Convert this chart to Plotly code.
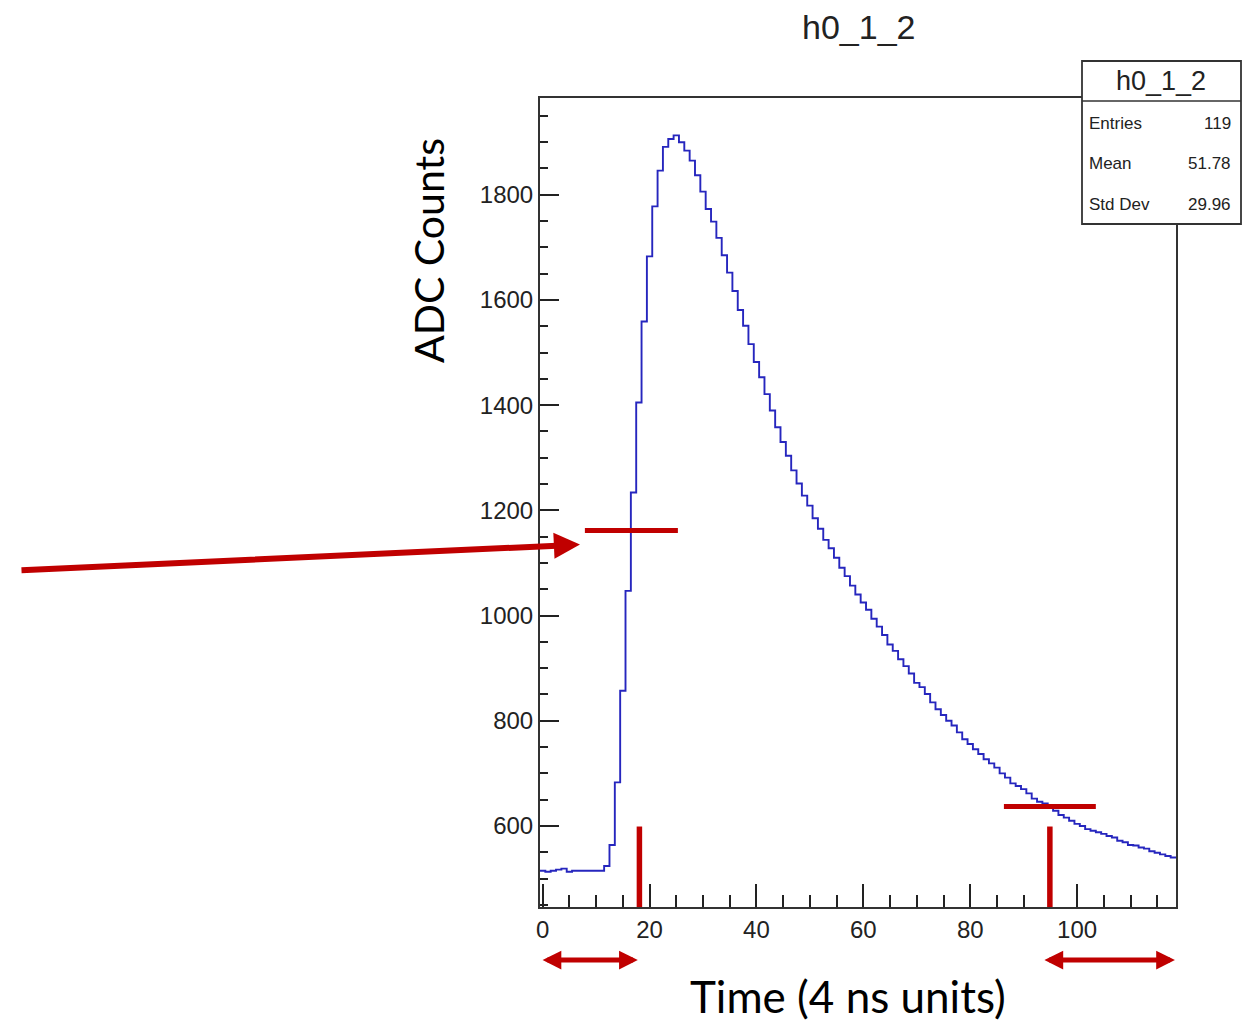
import numpy as np
import plotly.graph_objects as go

# ---------------- data ----------------
bin_centers = list(range(119))          # histogram bins, width 1, centred on integers
adc_counts = [
    515, 513, 515, 517, 519, 513, 515, 515, 515, 515, 515, 515,      # 0-11
    524, 564, 683, 857, 1047, 1234, 1405, 1559, 1683, 1778,          # 12-21
    1846, 1891, 1906, 1913, 1900, 1884, 1865, 1837, 1806, 1773,      # 22-31
    1749, 1718, 1685, 1652, 1617, 1581, 1551, 1516, 1482, 1453,      # 32-41
    1421, 1390, 1358, 1330, 1304, 1276, 1251, 1228, 1209, 1185,      # 42-51
    1165, 1144, 1128, 1110, 1091, 1075, 1057, 1040, 1025, 1011,      # 52-61
    994, 979, 963, 945, 933, 917, 904, 890, 872, 864,                # 62-71
    851, 835, 822, 811, 800, 791, 778, 765, 756, 746,                # 72-81
    737, 727, 719, 711, 700, 692, 681, 676, 670, 662,                # 82-91
    652, 646, 643, 637, 629, 621, 616, 610, 604, 600,                # 92-101
    594, 591, 588, 585, 581, 578, 572, 569, 564, 563,                # 102-111
    559, 557, 552, 549, 546, 543, 540,                               # 112-118
]
hist_name = "h0_1_2"
stats_labels = ["Entries", "Mean", "Std Dev"]
stats_values = ["119", "51.78", "29.96"]
x_tick_values = [0, 20, 40, 60, 80, 100]
y_tick_values = [600, 800, 1000, 1200, 1400, 1600, 1800]
x_title = "Time (4 ns units)"
y_title = "ADC Counts"

# red overlay marks (data coordinates)
level_start = dict(x0=7.9, x1=25.3, y=1162)
level_end = dict(x0=86.3, x1=103.5, y=637)
marker_times = [18.1, 94.9]
marker_top = 599
window_left = (-0.3, 17.8)
window_right = (93.6, 118.3)
arrow_tip = (6.98, 1135)
arrow_tail = (-97.8, 1086)

RED = "#c00000"
BLUE = "rgb(38,38,190)"
INK = "#222222"

# ---------------- figure ----------------
edges = np.array(bin_centers + [bin_centers[-1] + 1], dtype=float) - 0.5
y_step = adc_counts + [adc_counts[-1]]

fig = go.Figure()
fig.add_trace(go.Scatter(
    x=edges, y=y_step, mode="lines", line=dict(shape="hv", color=BLUE, width=1.9),
    hoverinfo="skip", showlegend=False))

xmin, xmax = edges[0], edges[-1]
ymin, ymax = 446, 1984

tickfont = dict(family="Liberation Sans, Arial, sans-serif", size=24, color=INK)
fig.update_xaxes(
    range=[xmin, xmax], tickvals=x_tick_values, ticks="inside", ticklen=23, tickwidth=1.5,
    tickcolor=INK, showline=True, linecolor="#333", linewidth=2, mirror=True,
    showgrid=False, zeroline=False, tickfont=tickfont,
    minor=dict(tick0=0, dtick=5, ticks="inside", ticklen=12, tickwidth=1.5,
               tickcolor=INK, showgrid=False))
fig.update_yaxes(
    range=[ymin, ymax], tickvals=y_tick_values, ticks="inside", ticklen=19, tickwidth=1.5,
    tickcolor=INK, showline=True, linecolor="#333", linewidth=2, mirror=True,
    showgrid=False, zeroline=False, tickfont=tickfont,
    minor=dict(tick0=0, dtick=50, ticks="inside", ticklen=8, tickwidth=1.5,
               tickcolor=INK, showgrid=False))

W, H = 1250, 1023
L, R, T, B = 540, 74, 98, 116
fig.update_layout(width=W, height=H, margin=dict(l=L, r=R, t=T, b=B, pad=0),
                  plot_bgcolor="white", paper_bgcolor="white", showlegend=False)

pw, ph = W - L - R, H - T - B
def px(xp):  # pixel x -> paper
    return (xp - L) / pw
def py(yp):  # pixel y -> paper
    return (H - B - yp) / ph

shapes = []
# red level lines
for lv in (level_start, level_end):
    shapes.append(dict(type="line", xref="x", yref="y", x0=lv["x0"], x1=lv["x1"],
                       y0=lv["y"], y1=lv["y"], line=dict(color=RED, width=5)))
for t in marker_times:
    shapes.append(dict(type="line", xref="x", yref="y", x0=t, x1=t,
                       y0=ymin, y1=marker_top, line=dict(color=RED, width=5.5)))
# stats box
shapes.append(dict(type="rect", xref="paper", yref="paper", x0=px(1082), x1=px(1241),
                   y0=py(224), y1=py(61), fillcolor="white",
                   line=dict(color="#333", width=1.8), layer="above"))
shapes.append(dict(type="line", xref="paper", yref="paper", x0=px(1082), x1=px(1241),
                   y0=py(101), y1=py(101), line=dict(color="#333", width=1.5), layer="above"))

annotations = []
# main title
annotations.append(dict(text=hist_name, xref="paper", yref="paper", x=px(858), y=py(27),
                        showarrow=False, xanchor="center", yanchor="middle",
                        font=dict(family="Liberation Sans, Arial", size=34, color=INK)))
# stats box content
annotations.append(dict(text=hist_name, xref="paper", yref="paper", x=px(1161), y=py(81),
                        showarrow=False, xanchor="center", yanchor="middle",
                        font=dict(family="Liberation Sans, Arial", size=27, color=INK)))
for i, (lab, val) in enumerate(zip(stats_labels, stats_values)):
    yy = py(123.5 + 40.5 * i)
    annotations.append(dict(text=lab, xref="paper", yref="paper", x=px(1087), y=yy,
                            showarrow=False, xanchor="left", yanchor="middle",
                            font=dict(family="Liberation Sans, Arial", size=17, color=INK)))
    annotations.append(dict(text=val, xref="paper", yref="paper", x=px(1233), y=yy,
                            showarrow=False, xanchor="right", yanchor="middle",
                            font=dict(family="Liberation Sans, Arial", size=17, color=INK)))
# axis titles
annotations.append(dict(text=y_title, xref="paper", yref="paper", x=px(428), y=py(251),
                        showarrow=False, textangle=-90, xanchor="center", yanchor="middle",
                        font=dict(family="Lato, Carlito, sans-serif", size=41, color="black")))
annotations.append(dict(text=x_title, xref="paper", yref="paper", x=px(848), y=py(996),
                        showarrow=False, xanchor="center", yanchor="middle",
                        font=dict(family="Lato, Carlito, sans-serif", size=44, color="black")))
# big red arrow
annotations.append(dict(text="", x=arrow_tip[0], y=arrow_tip[1], xref="x", yref="y",
                        ax=arrow_tail[0], ay=arrow_tail[1], axref="x", ayref="y",
                        showarrow=True, arrowhead=2, arrowsize=0.87, arrowwidth=6,
                        arrowcolor=RED, standoff=0))
# double-headed window arrows
for a, b in (window_left, window_right):
    annotations.append(dict(text="", x=b, y=py(960), xref="x", yref="paper",
                            ax=a, ay=0, axref="x", ayref="pixel",
                            showarrow=True, arrowhead=2, startarrowhead=2, arrowside="end+start",
                            arrowsize=0.75, startarrowsize=0.75, arrowwidth=5,
                            arrowcolor=RED, standoff=0, startstandoff=0))

fig.update_layout(shapes=shapes, annotations=annotations)
fig.write_html("out.html")
